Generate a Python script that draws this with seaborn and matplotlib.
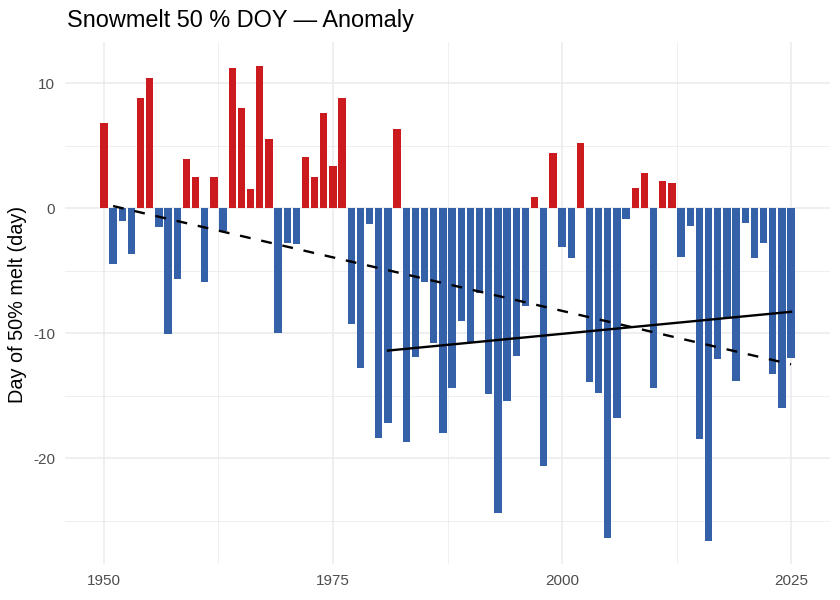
import numpy as np
import pandas as pd
import matplotlib
matplotlib.use("Agg")
import matplotlib.pyplot as plt
import seaborn as sns
from matplotlib.ticker import FixedLocator, FuncFormatter

years = list(range(1950, 2026))
anomaly = [
    6.8, -4.5, -1.0, -3.7, 8.8, 10.4, -1.5, -10.1, -5.7, 3.9,      # 1950-1959
    2.5, -5.9, 2.5, -1.8, 11.2, 8.0, 1.5, 11.4, 5.5, -10.0,        # 1960-1969
    -2.8, -2.9, 4.1, 2.5, 7.6, 3.4, 8.8, -9.3, -12.8, -1.3,        # 1970-1979
    -18.4, -17.2, 6.3, -18.7, -11.9, -5.9, -10.8, -18.0, -14.4, -9.0,  # 1980-1989
    -10.7, -6.8, -14.9, -24.4, -15.4, -11.8, -7.8, 0.9, -20.6, 4.4,    # 1990-1999
    -3.1, -4.0, 5.2, -13.9, -14.8, -26.4, -16.8, -0.9, 1.6, 2.8,       # 2000-2009
    -14.4, 2.2, 2.0, -3.9, -1.4, -18.5, -26.6, -12.1, -8.7, -13.8,     # 2010-2019
    -1.2, -4.0, -2.8, -13.3, -16.0, -12.0,                              # 2020-2025
]
x_ticks = [1950, 1975, 2000, 2025]
y_ticks = [-20, -10, 0, 10]
# trend lines (start/end values)
full_trend_years = [1951, 2025]
full_trend_values = [0.16, -12.5]
recent_trend_years = [1981, 2025]
recent_trend_values = [-11.4, -8.3]

df = pd.DataFrame({"year": years, "anomaly": anomaly})
df["sign"] = np.where(df["anomaly"] >= 0, "pos", "neg")
trend_df = pd.DataFrame({
    "year": full_trend_years + recent_trend_years,
    "value": full_trend_values + recent_trend_values,
    "period": ["full", "full", "recent", "recent"],
})

plt.rcParams["font.family"] = ["Liberation Sans", "DejaVu Sans"]
plt.rcParams["axes.unicode_minus"] = False

fig = plt.figure(figsize=(8.4, 6.0), dpi=100)
ax = fig.add_axes([65 / 840, 36 / 600, 765 / 840, 522 / 600])
ax.set_facecolor("white")
for s in ax.spines.values():
    s.set_visible(False)

ax.set_axisbelow(True)
ax.xaxis.set_major_locator(FixedLocator(x_ticks))
ax.xaxis.set_minor_locator(FixedLocator([1962.5, 1987.5, 2012.5]))
ax.yaxis.set_major_locator(FixedLocator(y_ticks))
ax.yaxis.set_minor_locator(FixedLocator([-25, -15, -5, 5]))
ax.grid(which="major", color="#EBEBEB", linewidth=1.1)
ax.grid(which="minor", color="#EBEBEB", linewidth=0.55)

sns.barplot(data=df, x="year", y="anomaly", hue="sign",
            palette={"pos": "#CB1B1F", "neg": "#3561A8"},
            native_scale=True, dodge=False, width=0.8,
            errorbar=None, legend=False, ax=ax, saturation=1, linewidth=0)

sns.lineplot(data=trend_df[trend_df["period"] == "full"], x="year", y="value",
             color="black", linewidth=1.7, ax=ax, dashes=False)
ax.lines[-1].set_linestyle((0, (4.6, 4.6)))
sns.lineplot(data=trend_df[trend_df["period"] == "recent"], x="year", y="value",
             color="black", linewidth=1.7, ax=ax)

ax.set_xlim(1945.75, 2029.25)
ax.set_ylim(-28.47, 13.28)
ax.yaxis.set_major_formatter(FuncFormatter(lambda v, _: f"{int(round(v))}"))
ax.xaxis.set_major_formatter(FuncFormatter(lambda v, _: f"{int(round(v))}"))
ax.tick_params(which="both", length=0)
ax.tick_params(axis="both", labelsize=11, labelcolor="#4D4D4D")
ax.tick_params(axis="y", pad=7)
ax.tick_params(axis="x", pad=7)
ax.set_xlabel("")
ax.set_ylabel("")

fig.text(18 / 840, 1 - 304 / 600, "Day of 50% melt (day)", rotation=90,
         ha="center", va="center", fontsize=14.3, color="black")
fig.text(67 / 840, 1 - 27 / 600, "Snowmelt 50 % DOY \u2014 Anomaly",
         ha="left", va="baseline", fontsize=16.9, color="black")

fig.savefig("out.png", dpi=100, facecolor="white")
